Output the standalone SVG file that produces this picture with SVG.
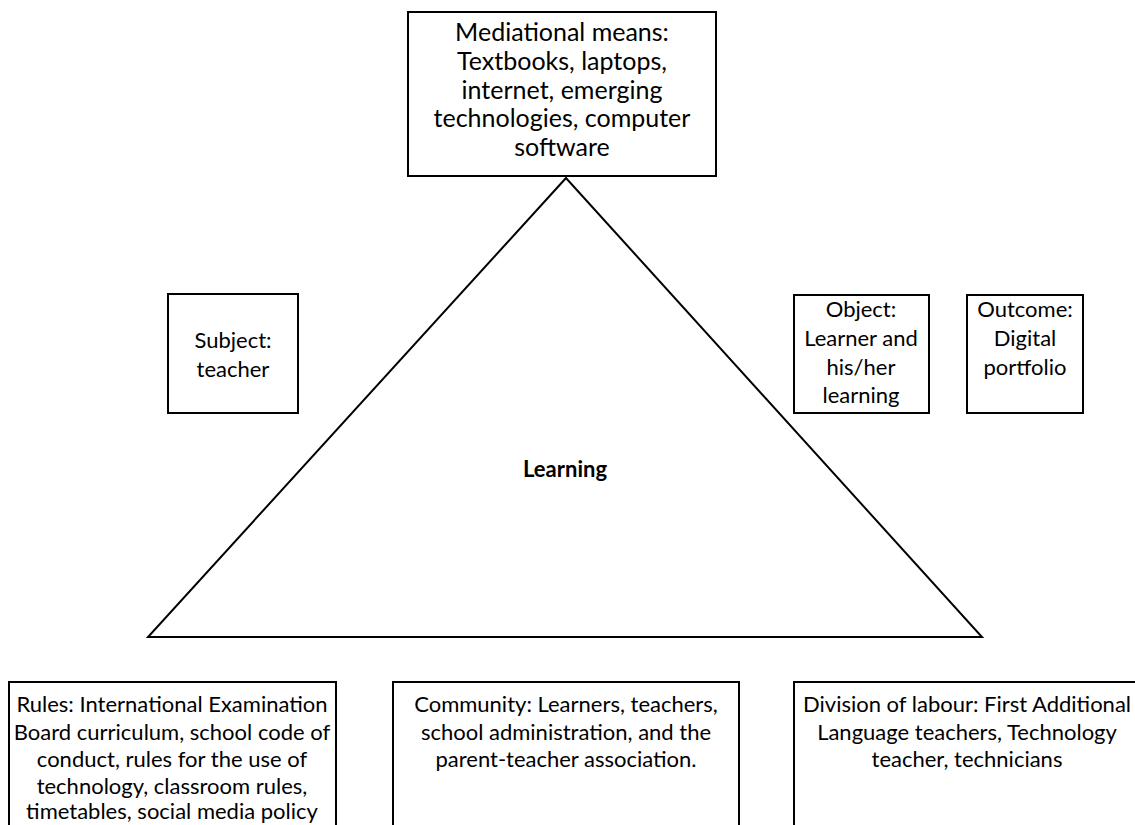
<svg xmlns="http://www.w3.org/2000/svg" width="1135" height="825" viewBox="0 0 1135 825">
<style>
.box{fill:#fff;stroke:#000;stroke-width:2}
.t{font-family:Lato,"Open Sans","Liberation Sans",sans-serif;font-size:22px;fill:#000;text-anchor:middle}
.big{font-size:25px}
.b{font-weight:bold}
</style>
<rect width="1135" height="825" fill="#fff"/>
<g id="connectors">
<polygon points="566,178 148,637 982,637" fill="none" stroke="#000" stroke-width="2"/>
</g>
<g id="mediational">
<rect class="box" x="408" y="12" width="308" height="164"/>
<text class="t big" x="562" y="41">Mediational means:</text>
<text class="t big" x="562" y="70">Textbooks, laptops,</text>
<text class="t big" x="562" y="99">internet, emerging</text>
<text class="t big" x="562" y="127">technologies, computer</text>
<text class="t big" x="562" y="156">software</text>
</g>
<g id="subject">
<rect class="box" x="168" y="294" width="130" height="119"/>
<text class="t" x="233" y="348">Subject:</text>
<text class="t" x="233" y="377">teacher</text>
</g>
<g id="object">
<rect class="box" x="794" y="295" width="135" height="118"/>
<text class="t" x="861" y="317">Object:</text>
<text class="t" x="861" y="346">Learner and</text>
<text class="t" x="861" y="375">his/her</text>
<text class="t" x="861" y="403">learning</text>
</g>
<g id="outcome">
<rect class="box" x="967" y="295" width="116" height="118"/>
<text class="t" x="1025" y="317">Outcome:</text>
<text class="t" x="1025" y="346">Digital</text>
<text class="t" x="1025" y="375">portfolio</text>
</g>
<g id="learning">
<text class="t b" x="565" y="477">Learning</text>
</g>
<g id="rules">
<rect class="box" x="9" y="682" width="327" height="160"/>
<text class="t" x="172" y="712">Rules: International Examination</text>
<text class="t" x="172" y="740">Board curriculum, school code of</text>
<text class="t" x="172" y="767">conduct, rules for the use of</text>
<text class="t" x="172" y="794">technology, classroom rules,</text>
<text class="t" x="172" y="819">timetables, social media policy</text>
</g>
<g id="community">
<rect class="box" x="393" y="682" width="346" height="160"/>
<text class="t" x="566" y="712">Community: Learners, teachers,</text>
<text class="t" x="566" y="740">school administration, and the</text>
<text class="t" x="566" y="767">parent-teacher association.</text>
</g>
<g id="division">
<rect class="box" x="794" y="682" width="348" height="160"/>
<text class="t" x="967" y="712">Division of labour: First Additional</text>
<text class="t" x="967" y="740">Language teachers, Technology</text>
<text class="t" x="967" y="767">teacher, technicians</text>
</g>
</svg>
